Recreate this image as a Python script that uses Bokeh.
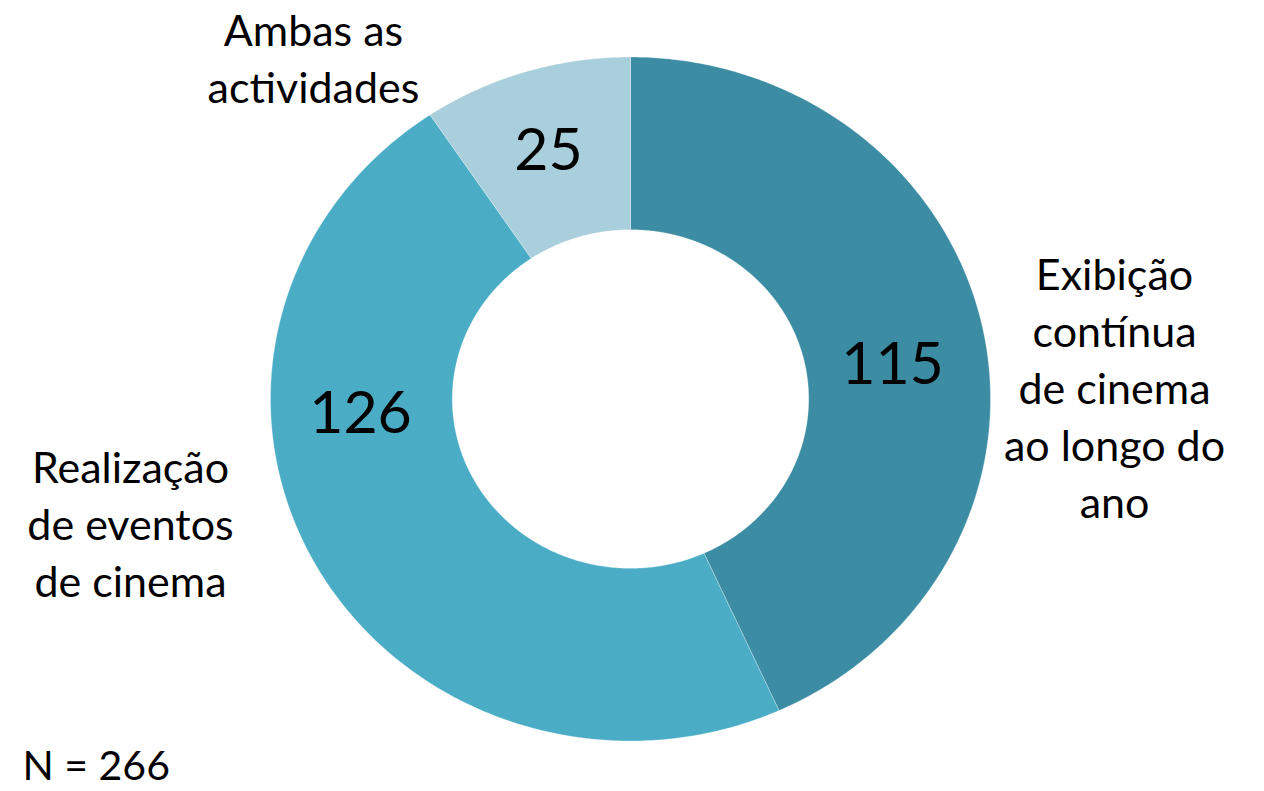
import numpy as np
from bokeh.plotting import figure
from bokeh.models import Range1d
from bokeh.core.properties import value
from bokeh.embed import file_html
from bokeh.resources import INLINE

# ---- data ----
categories = ["Exibição contínua de cinema ao longo do ano",
              "Realização de eventos de cinema",
              "Ambas as actividades"]
counts = [115, 126, 25]
colors = ["#3C8CA3", "#4BACC6", "#A9CFDC"]
label_lines = [["Exibição", "contínua", "de cinema", "ao longo do", "ano"],
               ["Realização", "de eventos", "de cinema"],
               ["Ambas as", "actividades"]]
note = "N = 266"

# ---- layout (page pixel coordinates, y downward) ----
W, H = 1264, 791
CX, CY = 630, 398.5
RX, RY = 360, 342
HOLE = 0.495
FONT = "Lato"
LFS = 43  # label font size px

p = figure(width=W, height=H, output_backend="svg", toolbar_location=None,
           x_range=Range1d(0, W), y_range=Range1d(H, 0),
           min_border=0, outline_line_color=None)
p.axis.visible = False
p.grid.visible = False
p.background_fill_color = "white"
p.border_fill_color = "white"

total = sum(counts)
cum = np.concatenate([[0], np.cumsum(counts)]) / total * 2 * np.pi
xs, ys = [], []
for i in range(len(counts)):
    t = np.linspace(cum[i], cum[i + 1], 300)
    ox = CX + RX * np.sin(t)
    oy = CY - RY * np.cos(t)
    ix = CX + RX * HOLE * np.sin(t[::-1])
    iy = CY - RY * HOLE * np.cos(t[::-1])
    xs.append(list(np.concatenate([ox, ix])))
    ys.append(list(np.concatenate([oy, iy])))
p.patches(xs=xs, ys=ys, fill_color=colors, line_color="white",
          line_alpha=0.35, line_width=0.8)

# value labels
val_pos = [(892, 362), (360, 411), (548, 148)]
p.text(x=[v[0] for v in val_pos], y=[v[1] for v in val_pos],
       text=[str(c) for c in counts], text_font=value(FONT),
       text_font_size="59px", text_align="center", text_baseline="middle",
       text_color="black")

# category labels (line by line); anchors = middle of first line
lab_anchor = [(1114, 273), (130, 466), (313, 29)]
LS = 57
tx, ty, tt = [], [], []
for (ax, ay), lines in zip(lab_anchor, label_lines):
    for k, ln in enumerate(lines):
        tx.append(ax); ty.append(ay + k * LS); tt.append(ln)
p.text(x=tx, y=ty, text=tt, text_font=value(FONT), text_font_size=f"{LFS}px",
       text_align="center", text_baseline="middle", text_color="black")

p.text(x=[22], y=[764], text=[note], text_font=value(FONT),
       text_font_size="41px", text_align="left", text_baseline="middle",
       text_color="black")

open("out.html", "w").write(file_html(p, INLINE))
